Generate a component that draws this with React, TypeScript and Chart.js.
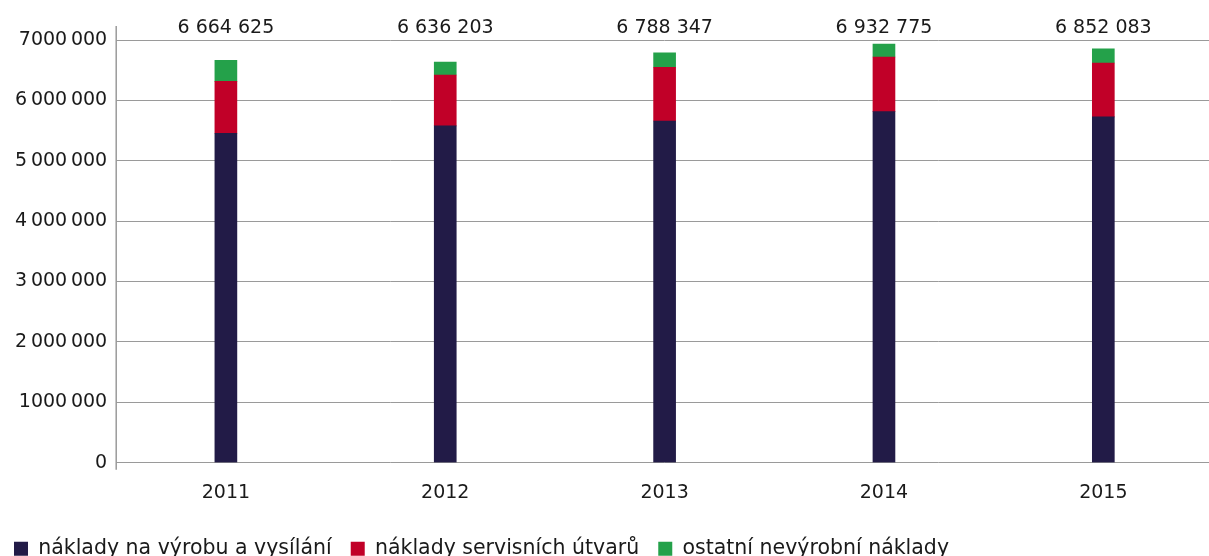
import React, { useEffect, useRef } from "react";
import { Chart, registerables } from "chart.js";

Chart.register(...registerables);

const categories = ["2011", "2012", "2013", "2014", "2015"];
const productionCosts = [5456000, 5577000, 5659000, 5813000, 5726000];
const serviceCosts = [860000, 844000, 889000, 906000, 893000];
const otherCosts = [348625, 215203, 240347, 213775, 233083];
const totalLabels = ["6 664 625", "6 636 203", "6 788 347", "6 932 775", "6 852 083"];
const seriesNames = [
  "náklady na výrobu a vysílání",
  "náklady servisních útvarů",
  "ostatní nevýrobní náklady",
];
const yTickLabels: Record<number, string> = {
  0: "0",
  1000000: "1000\u2009000",
  2000000: "2\u2009000\u2009000",
  3000000: "3\u2009000\u2009000",
  4000000: "4\u2009000\u2009000",
  5000000: "5\u2009000\u2009000",
  6000000: "6\u2009000\u2009000",
  7000000: "7000\u2009000",
};

const FONT = "'DejaVu Sans', sans-serif";

export default function App() {
  const ref = useRef<HTMLCanvasElement | null>(null);

  useEffect(() => {
    document.body.style.margin = "0";
    document.body.style.overflow = "hidden";
    const canvas = ref.current;
    if (!canvas) return;

    const overlay = {
      id: "overlay",
      afterLayout(chart: any) {
        if (chart.legend) {
          chart.legend.left -= 7;
          chart.legend.right -= 7;
        }
      },
      afterDraw(chart: any) {
        const { ctx, chartArea, scales } = chart;
        ctx.save();
        ctx.strokeStyle = "#9a9a9a";
        ctx.lineWidth = 1.5;
        ctx.beginPath();
        ctx.moveTo(chartArea.left, chartArea.top - 14);
        ctx.lineTo(chartArea.left, chartArea.bottom + 7);
        ctx.stroke();
        ctx.fillStyle = "#1a1a1a";
        ctx.font = `19px ${FONT}`;
        ctx.textAlign = "center";
        ctx.textBaseline = "middle";
        totalLabels.forEach((t, i) => {
          const x = scales.x.getPixelForValue(i);
          ctx.fillText(t, x, chartArea.top - 12);
        });
        ctx.restore();
      },
    };

    const chart = new Chart(canvas, {
      type: "bar",
      data: {
        labels: categories,
        datasets: [
          { label: seriesNames[0], data: productionCosts, backgroundColor: "#221B47", barThickness: 22 },
          { label: seriesNames[1], data: serviceCosts, backgroundColor: "#C10028", barThickness: 22 },
          { label: seriesNames[2], data: otherCosts, backgroundColor: "#24A14A", barThickness: 22 },
        ],
      },
      options: {
        responsive: false,
        animation: false,
        layout: { padding: { top: 40, left: 6, right: 0, bottom: -13 } },
        plugins: {
          tooltip: { enabled: false },
          legend: {
            position: "bottom",
            align: "start",
            labels: {
              boxWidth: 14,
              boxHeight: 14,
              color: "#1a1a1a",
              font: { family: FONT, size: 20.5 },
              padding: 15,
              generateLabels: (c: any) =>
                Chart.defaults.plugins.legend.labels
                  .generateLabels(c)
                  .map((l: any) => ({ ...l, text: l.text + "\u2009" })),
            },
          },
        },
        scales: {
          x: {
            stacked: true,
            grid: { display: false, drawTicks: false },
            border: { display: false },
            ticks: { color: "#1a1a1a", font: { family: FONT, size: 19 }, padding: 19 },
          },
          y: {
            stacked: true,
            min: 0,
            max: 7000000,
            grid: { color: "#9a9a9a", lineWidth: 1, drawTicks: false },
            border: { display: false },
            ticks: {
              stepSize: 1000000,
              color: "#1a1a1a",
              font: { family: FONT, size: 19 },
              padding: 9,
              callback: (v: any) => yTickLabels[Number(v)] ?? String(v),
            },
          },
        },
      },
      plugins: [overlay],
    });
    return () => chart.destroy();
  }, []);

  return (
    <div style={{ width: 1209, height: 556, overflow: "hidden" }}>
      <canvas ref={ref} width={1213} height={556} style={{ display: "block" }} />
    </div>
  );
}
